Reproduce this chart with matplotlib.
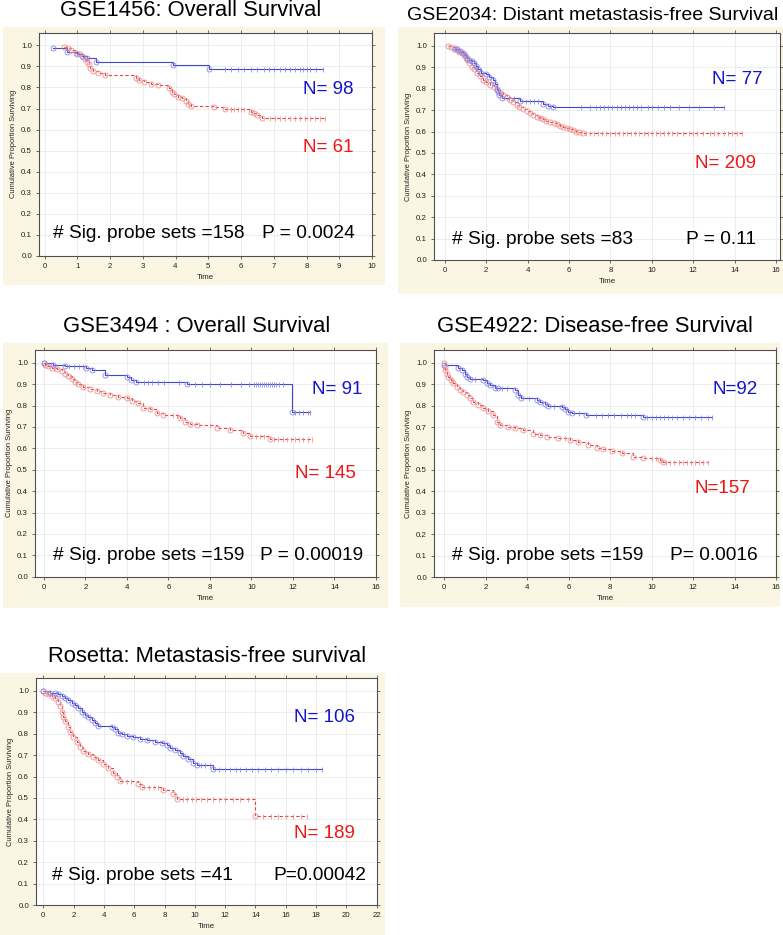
import numpy as np
import matplotlib
matplotlib.use('Agg')
import matplotlib.pyplot as plt
from matplotlib.patches import Rectangle

plt.rcParams['font.family'] = ['Liberation Sans', 'DejaVu Sans']

# ---------------- data ----------------
titles = ["GSE1456: Overall Survival",
          "GSE2034: Distant metastasis-free Survival",
          "GSE3494 : Overall Survival",
          "GSE4922: Disease-free Survival",
          "Rosetta: Metastasis-free survival"]
n_blue = ["N= 98", "N= 77", "N= 91", "N=92", "N= 106"]
n_red = ["N= 61", "N= 209", "N= 145", "N=157", "N= 189"]
sig_text = ["# Sig. probe sets =158", "# Sig. probe sets =83", "# Sig. probe sets =159",
            "# Sig. probe sets =159", "# Sig. probe sets =41"]
p_text = ["P = 0.0024", "P = 0.11", "P = 0.00019", "P= 0.0016", "P=0.00042"]
x_max = [10, 16, 16, 16, 22]
x_step = [1, 2, 2, 2, 2]

# GSE1456
p1_blue_t = [0.26, 0.69, 1.0, 1.15, 1.3, 1.58, 3.91, 5.02]
p1_blue_s = [0.986, 0.967, 0.96, 0.95, 0.94, 0.919, 0.906, 0.888]
p1_blue_c = [5.5, 5.7, 5.9, 6.1, 6.3, 6.5, 6.7, 6.85, 7.0, 7.2, 7.35, 7.5, 7.65, 7.8, 7.9, 8.0, 8.1, 8.3, 8.5]
p1_red_t = [0.6, 0.72, 0.82, 0.97, 1.07, 1.17, 1.22, 1.29, 1.35, 1.4, 1.47, 1.63, 1.86, 2.79, 2.89, 3.05,
            3.25, 3.47, 3.81, 3.88, 3.96, 4.06, 4.21, 4.31, 4.38, 4.46, 5.17, 5.52, 6.3, 6.4, 6.5, 6.65]
p1_red_s = [0.993, 0.986, 0.978, 0.965, 0.957, 0.946, 0.933, 0.922, 0.91, 0.894, 0.88, 0.867, 0.858, 0.846,
            0.835, 0.824, 0.816, 0.81, 0.796, 0.78, 0.767, 0.756, 0.748, 0.736, 0.721, 0.712, 0.705, 0.696,
            0.685, 0.677, 0.669, 0.655]
p1_red_c = [5.7, 5.8, 5.9, 6.0, 6.1, 6.9, 7.05, 7.2, 7.35, 7.5, 7.65, 7.8, 7.95, 8.1, 8.25, 8.4, 8.55]

# GSE2034
p2_blue_t = [0.45, 0.6, 0.75, 0.85, 0.95, 1.05, 1.15, 1.3, 1.4, 1.5, 1.6, 1.75, 2.0, 2.15, 2.3, 2.4, 2.5,
             2.55, 2.6, 2.74, 3.62, 4.75, 4.99, 5.23]
p2_blue_s = [0.987, 0.983, 0.975, 0.965, 0.955, 0.945, 0.935, 0.93, 0.92, 0.905, 0.89, 0.875, 0.868, 0.855,
             0.84, 0.82, 0.8, 0.785, 0.77, 0.755, 0.743, 0.729, 0.72, 0.713]
p2_blue_c = [3.1, 3.35, 3.9, 4.1, 4.3, 4.5, 6.6, 7.0, 7.3, 7.5, 7.7, 7.9, 8.1, 8.3, 8.5, 8.7, 8.9, 9.1, 9.3,
             9.5, 9.8, 10.0, 10.3, 10.6, 10.9, 11.3, 11.8, 12.3, 13.0, 13.5]
p2_red_t = [0.16, 0.3, 0.48, 0.6, 0.7, 0.8, 0.9, 1.0, 1.05, 1.15, 1.29, 1.4, 1.53, 1.7, 1.85, 2.0, 2.17,
            2.35, 2.5, 2.65, 2.82, 3.0, 3.14, 3.3, 3.46, 3.6, 3.78, 3.95, 4.11, 4.27, 4.43, 4.6, 4.75, 4.9,
            5.07, 5.25, 5.4, 5.55, 5.72, 5.9, 6.04, 6.2, 6.36, 6.5, 6.68]
p2_red_s = [1.0, 0.995, 0.989, 0.98, 0.973, 0.966, 0.955, 0.945, 0.935, 0.922, 0.903, 0.89, 0.872, 0.857,
            0.841, 0.83, 0.818, 0.806, 0.794, 0.783, 0.771, 0.76, 0.748, 0.736, 0.724, 0.714, 0.704, 0.695,
            0.685, 0.677, 0.67, 0.663, 0.657, 0.651, 0.646, 0.64, 0.634, 0.628, 0.623, 0.617, 0.611, 0.605,
            0.6, 0.596, 0.592]
p2_red_c = [6.8, 7.0, 7.2, 7.4, 7.6, 7.8, 8.0, 8.2, 8.4, 8.6, 8.8, 9.0, 9.2, 9.4, 9.6, 9.8, 10.0, 10.2,
            10.4, 10.6, 10.8, 11.0, 11.2, 11.5, 11.8, 12.0, 12.2, 12.5, 12.8, 13.0, 13.2, 13.5, 13.7, 13.9,
            14.1, 14.35]

# GSE3494
p3_blue_t = [0.0, 0.42, 1.0, 2.02, 2.3, 2.94, 3.98, 4.2, 4.43, 6.9, 11.93]
p3_blue_s = [1.0, 0.99, 0.985, 0.975, 0.965, 0.942, 0.932, 0.92, 0.91, 0.899, 0.771]
p3_blue_c = [1.2, 1.45, 1.7, 1.9, 4.8, 5.0, 5.2, 5.5, 5.8, 6.5, 7.3, 7.6, 8.0, 8.5, 9.0, 9.5, 9.9, 10.1,
             10.2, 10.3, 10.4, 10.5, 10.6, 10.7, 10.8, 10.9, 11.0, 11.1, 11.2, 11.35, 11.5, 12.1, 12.3,
             12.5, 12.7, 12.82]
p3_red_t = [0.0, 0.05, 0.21, 0.37, 0.61, 0.85, 1.01, 1.17, 1.33, 1.49, 1.65, 1.89, 2.22, 2.54, 2.86, 3.18,
            3.58, 3.98, 4.22, 4.55, 4.79, 5.11, 5.43, 5.75, 6.55, 6.8, 7.04, 7.36, 8.32, 8.96, 9.61, 9.93,
            10.89]
p3_red_s = [0.997, 0.992, 0.986, 0.974, 0.97, 0.961, 0.95, 0.939, 0.924, 0.911, 0.899, 0.885, 0.877, 0.869,
            0.857, 0.849, 0.841, 0.834, 0.823, 0.81, 0.79, 0.782, 0.764, 0.756, 0.743, 0.724, 0.714, 0.709,
            0.697, 0.686, 0.67, 0.659, 0.642]
p3_red_c = [0.5, 1.3, 1.6, 6.2, 6.4, 8.0, 10.2, 10.4, 10.6, 11.1, 11.3, 11.5, 11.7, 11.9, 12.1, 12.3, 12.5,
            12.7, 12.9]

# GSE4922
p4_blue_t = [0.0, 0.68, 0.84, 1.0, 1.11, 1.24, 1.88, 2.04, 2.2, 2.45, 2.61, 3.41, 3.57, 3.68, 4.46, 4.62,
             4.86, 5.02, 5.66, 5.82, 5.98, 6.14, 6.82, 9.57]
p4_blue_s = [0.989, 0.977, 0.966, 0.95, 0.935, 0.924, 0.919, 0.908, 0.896, 0.884, 0.881, 0.872, 0.852,
             0.837, 0.826, 0.815, 0.806, 0.8, 0.795, 0.784, 0.772, 0.768, 0.756, 0.745]
p4_blue_c = [1.5, 2.8, 3.0, 4.1, 5.3, 6.5, 7.3, 7.6, 7.9, 8.2, 8.5, 8.8, 9.0, 9.2, 9.8, 10.0, 10.2, 10.4,
             10.6, 10.8, 11.0, 11.2, 11.5, 11.8, 12.1, 12.4, 12.7, 12.9]
p4_red_t = [0.0, 0.02, 0.03, 0.11, 0.19, 0.31, 0.44, 0.6, 0.76, 0.92, 1.08, 1.24, 1.4, 1.64, 1.88, 2.12,
            2.36, 2.52, 2.69, 3.09, 3.41, 3.81, 4.29, 4.62, 4.94, 5.5, 6.06, 6.47, 6.95, 7.35, 7.67, 8.07,
            8.56, 9.12, 9.6, 10.4, 10.56]
p4_red_s = [0.997, 0.981, 0.966, 0.95, 0.935, 0.919, 0.904, 0.888, 0.873, 0.865, 0.849, 0.834, 0.818,
            0.802, 0.79, 0.775, 0.756, 0.725, 0.712, 0.702, 0.694, 0.686, 0.67, 0.663, 0.655, 0.647, 0.64,
            0.629, 0.616, 0.604, 0.598, 0.588, 0.577, 0.562, 0.554, 0.546, 0.538]
p4_red_c = [5.8, 10.0, 10.2, 10.7, 10.9, 11.1, 11.3, 11.5, 11.7, 11.9, 12.1, 12.3, 12.5, 12.7]

# Rosetta
p5_blue_t = [0.0, 0.44, 0.77, 0.99, 1.21, 1.43, 1.65, 1.87, 2.09, 2.31, 2.53, 2.75, 2.97, 3.19, 3.41, 3.63,
             4.51, 4.73, 4.95, 5.17, 5.5, 5.94, 6.38, 6.82, 7.37, 7.81, 8.14, 8.36, 8.69, 9.02, 9.24, 9.57,
             9.9, 10.12, 11.22]
p5_blue_s = [1.0, 0.992, 0.989, 0.986, 0.977, 0.966, 0.955, 0.945, 0.935, 0.919, 0.903, 0.888, 0.877,
             0.864, 0.849, 0.836, 0.833, 0.821, 0.805, 0.797, 0.79, 0.783, 0.777, 0.771, 0.763, 0.758,
             0.748, 0.735, 0.724, 0.709, 0.696, 0.68, 0.665, 0.655, 0.636]
p5_blue_c = [10.4, 10.7, 11.0, 11.6, 12.0, 12.3, 12.7, 13.0, 13.4, 13.8, 14.2, 14.6, 15.0, 15.5, 16.0,
             16.5, 17.0, 17.5, 18.0, 18.4]
p5_red_t = [0.0, 0.11, 0.33, 0.55, 0.77, 0.99, 1.1, 1.21, 1.32, 1.43, 1.65, 1.76, 1.98, 2.2, 2.42, 2.64,
            2.97, 3.3, 3.63, 3.96, 4.29, 4.62, 4.84, 5.06, 6.27, 6.49, 7.92, 8.58, 8.8, 14.0]
p5_red_s = [1.0, 0.992, 0.986, 0.977, 0.966, 0.95, 0.927, 0.903, 0.88, 0.857, 0.833, 0.81, 0.786, 0.763,
            0.74, 0.721, 0.706, 0.69, 0.675, 0.659, 0.639, 0.615, 0.597, 0.58, 0.565, 0.55, 0.537, 0.519,
            0.497, 0.417]
p5_red_c = [5.5, 5.8, 7.0, 7.3, 7.6, 9.2, 9.5, 9.8, 10.1, 10.4, 10.8, 11.2, 11.6, 12.0, 12.5, 13.0, 13.5,
            14.5, 15.0, 15.5, 16.0, 16.5, 17.0, 17.4]

blue_curves = [(p1_blue_t, p1_blue_s, p1_blue_c), (p2_blue_t, p2_blue_s, p2_blue_c),
               (p3_blue_t, p3_blue_s, p3_blue_c), (p4_blue_t, p4_blue_s, p4_blue_c),
               (p5_blue_t, p5_blue_s, p5_blue_c)]
red_curves = [(p1_red_t, p1_red_s, p1_red_c), (p2_red_t, p2_red_s, p2_red_c),
              (p3_red_t, p3_red_s, p3_red_c), (p4_red_t, p4_red_s, p4_red_c),
              (p5_red_t, p5_red_s, p5_red_c)]

# ---------------- layout (pixels) ----------------
W, H = 783, 935
fig = plt.figure(figsize=(W / 100, H / 100), dpi=100)
fig.patch.set_facecolor('white')

def fx(x):
    return x / W

def fy(y):
    return 1 - y / H

cream = '#FBF6E4'
panel_bg = [(3, 27, 385, 285), (398, 27, 783, 294), (3, 343, 388, 608), (400, 343, 780, 607),
            (0, 673, 385, 935)]
axes_px = [(39, 32.7, 372, 256), (434, 33, 780, 260), (35, 350, 376, 576.7), (434, 350, 776, 577),
           (36, 678, 376.7, 905)]
x_left = [-0.17, -0.53, -0.43, -0.5, -0.48]
x_right = [10.0, 16.2, 16.0, 16.0, 22.0]
title_pos = [(191, 10, 15.8), (593, 16, 14), (197, 326, 15.8), (595, 326, 15.8), (207, 656, 15.8)]
nb_pos = [(303, 89), (712, 80), (312, 389), (712, 389), (294, 717)]
nr_pos = [(303, 147), (695, 164), (295, 473), (695, 488), (294, 833)]
sig_pos = [(53, 234), (452, 239), (53, 556), (452, 556), (52, 876)]
p_pos = [(355, 234), (756, 239), (363, 556), (758, 556), (366, 876)]

for (l, t, r, b) in panel_bg:
    fig.add_artist(Rectangle((fx(l), fy(b)), (r - l) / W, (b - t) / H, transform=fig.transFigure,
                             facecolor=cream, edgecolor='none', zorder=-5))

blue_line, blue_mark = '#4545CC', '#8A8AEA'
red_line, red_mark = '#E04545', '#F29090'


def km(ax, t, s, c, lc, mc, ls):
    t = np.asarray(t, float)
    s = np.asarray(s, float)
    c = np.asarray(c, float)
    end = max(t.max(), c.max())
    x = np.append(t, end)
    y = np.append(s, s[-1])
    ax.step(x, y, where='post', color=lc, lw=0.8, ls=ls, zorder=3)
    ax.plot(t, s, 'o', ms=3.6, mfc='none', mec=mc, mew=0.6, zorder=4)
    idx = np.clip(np.searchsorted(t, c, side='right') - 1, 0, None)
    ax.plot(c, s[idx], '|', ms=3.6, color=mc, mew=0.6, zorder=4)


for i in range(5):
    l, t, r, b = axes_px[i]
    ax = fig.add_axes([fx(l), fy(b), (r - l) / W, (b - t) / H])
    ax.set_zorder(1)
    ax.set_facecolor('white')
    ax.set_xlim(x_left[i], x_right[i])
    ax.set_ylim(0, 1.06)
    ax.set_xticks(np.arange(0, x_max[i] + 0.01, x_step[i]))
    ax.set_yticks(np.arange(0, 1.01, 0.1))
    ax.set_yticklabels(['%.1f' % v for v in np.arange(0, 1.01, 0.1)])
    ax.grid(True, color='#E6E6E6', lw=0.5, zorder=0)
    ax.set_axisbelow(True)
    for sp in ax.spines.values():
        sp.set_color('#505050')
        sp.set_linewidth(0.8)
    ax.tick_params(axis='both', which='major', direction='out', length=2.5, width=0.6,
                   color='#505050', labelsize=5.7, pad=2.5, labelcolor='#222222')
    ax.tick_params(top=True, right=True)
    km(ax, *red_curves[i], red_line, red_mark, (0, (3, 2)))
    km(ax, *blue_curves[i], blue_line, blue_mark, '-')
    ax.set_xlabel('Time', fontsize=5.7, labelpad=3, color='#222222')
    ax.set_ylabel('Cumulative Proportion Surviving', fontsize=5.4, labelpad=3, color='#222222')

    cx, cy, fs = title_pos[i]
    fig.text(fx(cx), fy(cy), titles[i], ha='center', va='center', fontsize=fs, color='black', zorder=5)
    fig.text(fx(nb_pos[i][0]), fy(nb_pos[i][1]), n_blue[i], ha='left', va='center', fontsize=13.5,
             color='#1414CC', zorder=5)
    fig.text(fx(nr_pos[i][0]), fy(nr_pos[i][1]), n_red[i], ha='left', va='center', fontsize=13.5,
             color='#EE1616', zorder=5)
    fig.text(fx(sig_pos[i][0]), fy(sig_pos[i][1]), sig_text[i], ha='left', va='center', fontsize=13.8,
             color='black', zorder=5)
    fig.text(fx(p_pos[i][0]), fy(p_pos[i][1]), p_text[i], ha='right', va='center', fontsize=13.8,
             color='black', zorder=5)

fig.savefig('out.png', dpi=100, facecolor='white')
